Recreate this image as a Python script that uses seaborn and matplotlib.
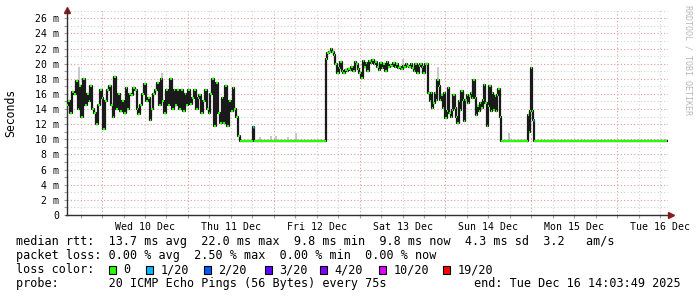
import numpy as np
import pandas as pd
import matplotlib
matplotlib.use("Agg")
import matplotlib.pyplot as plt
import matplotlib.dates as mdates
from matplotlib.ticker import MultipleLocator, FuncFormatter, NullFormatter
from matplotlib.patches import Rectangle
import seaborn as sns

# ---------------- data ----------------
START = pd.Timestamp("2025-12-09 14:03:49")
END = pd.Timestamp("2025-12-16 14:03:49")

noisy1 = [14.5, 15.0, 13.5, 16.2, 16.0, 17.7, 14.0, 17.0, 13.0, 18.0, 14.5, 16.0, 15.0, 17.0,
          14.0, 13.5, 12.0, 14.5, 16.5, 15.5, 11.3, 15.0, 16.5, 17.0, 14.5, 13.0, 18.3, 14.0,
          16.0, 13.7, 15.0, 13.5, 16.8, 14.0, 16.0, 15.8, 16.8, 16.5, 14.0, 13.3, 14.5, 16.0,
          17.3, 15.0, 15.5, 12.5, 14.0, 16.0, 16.5, 17.5, 14.5, 18.0, 15.0, 13.5, 16.5, 14.5,
          18.0, 14.0, 16.5, 14.5, 16.5, 14.0, 16.5, 13.8, 16.0, 14.5, 16.5, 14.7, 15.5, 16.5,
          14.0, 15.5, 15.8, 13.5, 15.0, 16.5, 14.0, 13.5, 16.0, 18.0, 11.8, 17.5, 13.5, 12.2,
          15.5, 12.2, 17.0, 11.8, 15.0, 13.8, 16.8, 14.0, 13.0, 10.5]
flat1 = [9.8] * 7 + [11.6] + [9.8] * 40
noisy2 = [20.6, 21.4, 21.5, 22.0, 21.6, 21.2, 19.9, 18.8, 19.4, 20.2, 19.0, 18.8, 19.1, 19.0,
          19.3, 19.1, 19.6, 19.0, 20.2, 19.9, 19.3, 18.8, 18.1, 20.3, 19.6, 20.1, 19.0, 20.3,
          20.1, 20.5, 19.9, 20.2, 19.6, 19.1, 20.1, 19.4, 20.0, 19.0, 20.2, 19.6, 19.8, 19.7,
          20.1, 19.6, 19.9, 19.4, 19.6, 19.3, 19.7, 19.6, 20.0, 19.7, 19.6, 19.9, 19.4, 19.0,
          20.0, 18.8, 19.7, 19.9, 19.6, 18.8, 19.9, 20.0]
noisy3 = [16.1, 15.0, 16.1, 14.1, 14.8, 16.1, 15.2, 17.9, 17.0, 15.2, 15.9, 14.1, 16.1, 12.8,
          13.7, 16.8, 13.5, 13.0, 13.9, 15.9, 14.1, 13.0, 12.1, 15.0, 13.9, 16.4, 15.2, 12.4,
          15.2, 15.9, 14.8, 15.7, 16.1, 15.4, 17.9, 15.4, 13.2, 14.4, 13.7, 14.8, 14.1, 15.2,
          17.2, 14.8, 11.7, 14.4, 17.0, 13.7, 16.1, 13.9, 15.7, 13.7, 15.9, 16.6, 13.0]
flat2 = [9.8] * 15
spike = [13.2, 11.0, 13.8, 19.4, 13.8, 12.6]
flat3 = [9.8] * 75
segment_hours = [0.0, 48.5, 72.5, 101.1, 121.5, 128.9, 130.7, 168.0]

smoke_hours = [3.5, 26.7, 54.1, 57.2, 58.6, 61.9, 64.2, 94.1, 103.9, 123.8]
smoke_top = [19.5, 18.7, 10.3, 10.5, 10.4, 10.3, 10.9, 20.6, 19.6, 10.8]

loss_hours = [52.0, 130.4]          # samples with 1/20 packet loss
loss_vals = [11.6, 12.6]

loss_labels = ["0", "1/20", "2/20", "3/20", "4/20", "10/20", "19/20"]
loss_colors = ["#26ff00", "#00b8ff", "#0059ff", "#5e00ff", "#7e00ff", "#dd00ff", "#ff0000"]

line1 = "median rtt:  13.7 ms avg  22.0 ms max  9.8 ms min  9.8 ms now  4.3 ms sd  3.2   am/s"
line2 = "packet loss: 0.00 % avg  2.50 % max  0.00 % min  0.00 % now"
line3 = "loss color:"
line4 = "probe:       20 ICMP Echo Pings (56 Bytes) every 75s"
end_text = "end: Tue Dec 16 14:03:49 2025"

# ---------------- build series ----------------
segments = [noisy1, flat1, noisy2, noisy3, flat2, spike, flat3]
hours, vals = [], []
for seg, h0, h1 in zip(segments, segment_hours[:-1], segment_hours[1:]):
    hours.extend(np.linspace(h0, h1, len(seg), endpoint=False))
    vals.extend(seg)
hours.append(segment_hours[-1])
vals.append(vals[-1])
hours = np.array(hours)
vals = np.array(vals)
df = pd.DataFrame({"time": START + pd.to_timedelta(hours, unit="h"), "rtt": vals})
tnum = mdates.date2num(df["time"])

# ---------------- figure ----------------
W, H = 697, 297
fig = plt.figure(figsize=(W / 100, H / 100), dpi=100)
fig.patch.set_facecolor("white")
ax = fig.add_axes([66.5 / W, (H - 215) / H, 601 / W, (215 - 10.3) / H])
ax.set_facecolor("white")
MONO = ["DejaVu Sans Mono"]
plt.rcParams["font.family"] = MONO

# smoke (gray)
sidx = np.searchsorted(hours, smoke_hours, side="right") - 1
smoke_t = mdates.date2num(START + pd.to_timedelta(smoke_hours, unit="h"))
ax.vlines(smoke_t, vals[sidx], smoke_top, color="#c8c8c8", lw=1.4, zorder=2)

# median: black step line + green loss-colored horizontals
sns.lineplot(data=df, x="time", y="rtt", drawstyle="steps-post", color="#1a1a1a",
             lw=1.6, ax=ax, estimator=None, sort=False, zorder=3)
ax.hlines(vals[:-1], tnum[:-1], tnum[1:], color=loss_colors[0], lw=1.5, zorder=4)
lidx = np.searchsorted(hours, loss_hours, side="right") - 1
ax.hlines(loss_vals, tnum[lidx], tnum[lidx + 1], color=loss_colors[1], lw=1.8, zorder=5)

ax.set_xlim(mdates.date2num(START), mdates.date2num(END))
ax.set_ylim(0, 27.05)
ax.set_xlabel("")
ax.set_ylabel("")

# ticks
ax.xaxis.set_major_locator(mdates.HourLocator(byhour=[0]))
ax.xaxis.set_minor_locator(mdates.HourLocator(byhour=[6, 12, 18]))
ax.xaxis.set_major_formatter(NullFormatter())


def xfmt(v, p):
    if round((v % 1) * 24) == 12:
        return mdates.num2date(v).strftime("%a %d %b")
    return ""


ax.xaxis.set_minor_formatter(FuncFormatter(xfmt))
ax.yaxis.set_major_locator(MultipleLocator(2))
ax.yaxis.set_minor_locator(MultipleLocator(1))
ax.yaxis.set_major_formatter(FuncFormatter(lambda v, p: "0" if v == 0 else f"{int(round(v))} m"))

ax.tick_params(which="both", direction="out", length=2, width=0.8, color="#a0a0a0",
               labelsize=7.1, labelcolor="#000000")
ax.tick_params(axis="y", pad=3.2)
ax.tick_params(axis="x", pad=3.0)
for lab in ax.get_xticklabels(which="both") + ax.get_yticklabels():
    lab.set_family(MONO)

# grid
ax.set_axisbelow(True)
ax.grid(which="minor", color="#d2d2d2", linestyle=(0, (1, 2)), lw=0.8, zorder=0)
ax.grid(which="major", color="#e39a9a", linestyle=(0, (1, 2)), lw=0.8, zorder=0)

for s in ["top", "right"]:
    ax.spines[s].set_visible(False)
for s in ["left", "bottom"]:
    ax.spines[s].set_color("#303030")
    ax.spines[s].set_linewidth(1.0)
ax.plot([0], [1.0], marker="^", ms=4, color="#8b1a1a", transform=ax.transAxes, clip_on=False)
ax.plot([1.006], [0], marker=">", ms=4, color="#8b1a1a", transform=ax.transAxes, clip_on=False)

# labels
fig.text(11 / W, 1 - 113 / H, "Seconds", rotation=90, ha="center", va="center",
         fontsize=8.3, family=MONO)
fig.text(688 / W, 1 - 60 / H, "RRDTOOL / TOBI OETIKER", rotation=270, ha="center",
         va="center", fontsize=6, family=MONO, color="#b8b8b8")

# legend block
FS = 8.5
fig.text(16.5 / W, 1 - 245 / H, line1, fontsize=FS, family=MONO, va="baseline")
fig.text(16.5 / W, 1 - 259 / H, line2, fontsize=FS, family=MONO, va="baseline")
fig.text(16.5 / W, 1 - 273.3 / H, line3, fontsize=FS, family=MONO, va="baseline")
fig.text(16.5 / W, 1 - 286.7 / H, line4, fontsize=FS, family=MONO, va="baseline")
fig.text(681 / W, 1 - 286.7 / H, end_text, fontsize=FS, family=MONO, va="baseline", ha="right")

box_x = [109, 146, 204, 265, 320, 379, 443]
for bx, lab, col in zip(box_x, loss_labels, loss_colors):
    fig.patches.append(Rectangle((bx / W, 1 - 273.8 / H), 7 / W, 8.3 / H,
                                 transform=fig.transFigure, facecolor=col,
                                 edgecolor="black", lw=0.8))
    fig.text((bx + 14.5) / W, 1 - 273.3 / H, lab, fontsize=FS, family=MONO, va="baseline")

fig.savefig("out.png", dpi=100, facecolor="white")
